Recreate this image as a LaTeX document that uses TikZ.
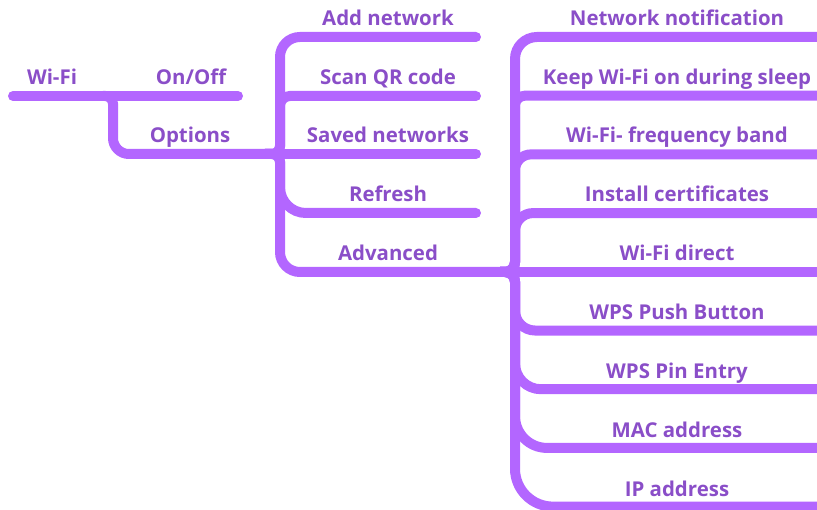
\documentclass[tikz,border=0pt]{standalone}
\usepackage{fontspec}
\setmainfont{Open Sans}
\definecolor{branch}{RGB}{179,102,255}
\definecolor{txt}{RGB}{138,78,200}
\tikzset{
  br/.style={draw=branch, line width=10bp, line cap=round},
  lbl/.style={text=txt, font=\fontsize{20.5}{24}\selectfont\bfseries, anchor=base, inner sep=0pt},
}
\begin{document}
\begin{tikzpicture}[x=1bp,y=-1bp]
\useasboundingbox (0,0) rectangle (817,510);
\begin{scope}
\clip (0,0) rectangle (817,510);
% junction coordinates
\coordinate (root0) at (13,96);
\coordinate (root1) at (238,96);
\coordinate (j1) at (113,96);
\coordinate (j2) at (280,154);
\coordinate (j3) at (515,272);
% level 1
\draw[br] (root0) -- (root1);
\draw[br] (103,96) [rounded corners=8] -- (j1) [rounded corners=16] -- (113,154) -- (j2);
% level 2
\foreach \y/\r in {37/20,96/10,213/26}{
  \draw[br] (265,154) [rounded corners=8] -- (j2) [rounded corners=\r] -- (280,\y) -- (476,\y);
}
\draw[br] (j2) -- (476,154);
\draw[br] (265,154) [rounded corners=8] -- (j2) [rounded corners=20] -- (280,272) -- (j3);
% level 3
\draw[br] (j3) -- (840,272);
\foreach \y/\r in {37/22,95.7/10,154.4/16,213.1/18,330.5/20,389.2/26,447.9/32,506.6/38}{
  \draw[br] (500,272) [rounded corners=10] -- (j3) [rounded corners=\r] -- (515,\y) -- (840,\y);
}
\end{scope}
% labels
\node[lbl] (wifi) at (52,85) {Wi-Fi};
\node[lbl] (onoff) at (191,85) {On/Off};
\node[lbl] (options) at (190,143) {Options};
\node[lbl] (add) at (388,26) {Add network};
\node[lbl] (scan) at (388,85) {Scan QR code};
\node[lbl] (saved) at (388,143) {Saved networks};
\node[lbl] (refresh) at (388,202) {Refresh};
\node[lbl] (adv) at (388,261) {Advanced};
\node[lbl] (nn) at (677,26) {Network notification};
\node[lbl] (keep) at (677,85) {Keep Wi-Fi on during sleep};
\node[lbl] (freq) at (677,143) {Wi-Fi- frequency band};
\node[lbl] (cert) at (677,202) {Install certificates};
\node[lbl] (direct) at (677,261) {Wi-Fi direct};
\node[lbl] (push) at (677,320) {WPS Push Button};
\node[lbl] (pin) at (677,378) {WPS Pin Entry};
\node[lbl] (mac) at (677,437) {MAC address};
\node[lbl] (ip) at (677,496) {IP address};
\end{tikzpicture}
\end{document}
